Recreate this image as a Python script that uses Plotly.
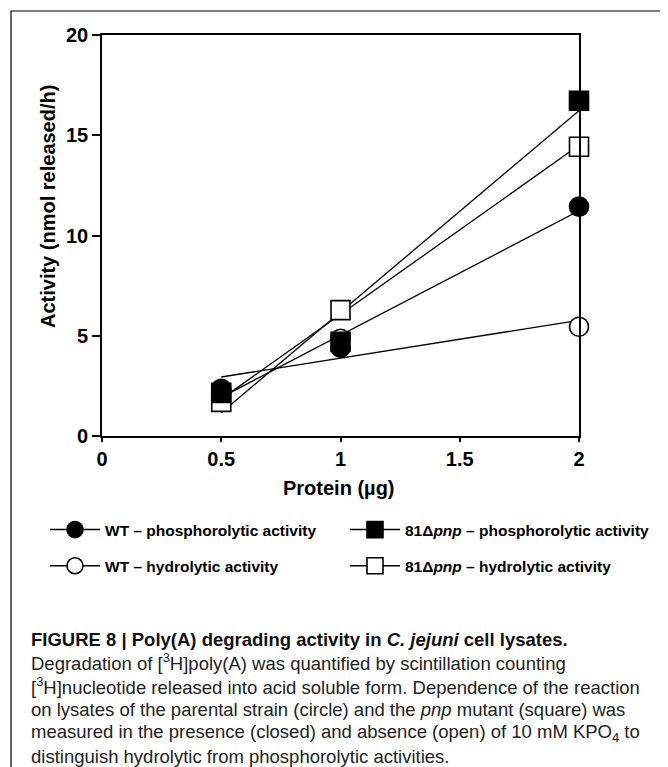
import numpy as np
import plotly.graph_objects as go

# ---------------- data ----------------
protein = [0.5, 1, 2]
wt_phos = [2.35, 4.4, 11.44]        # WT - phosphorolytic (filled circle)
wt_hydro = [2.3, 4.85, 5.45]        # WT - hydrolytic (open circle)
mut_phos = [2.15, 4.7, 16.72]       # 81Δpnp - phosphorolytic (filled square)
mut_hydro = [1.7, 6.28, 14.43]      # 81Δpnp - hydrolytic (open square)

x_ticks = [0, 0.5, 1, 1.5, 2]
x_ticklabels = ["0", "0.5", "1", "1.5", "2"]
y_ticks = [0, 5, 10, 15, 20]

names = {
    "wt_phos": "WT – phosphorolytic activity",
    "wt_hydro": "WT – hydrolytic activity",
    "mut_phos": "81Δ<i>pnp</i> – phosphorolytic activity",
    "mut_hydro": "81Δ<i>pnp</i> – hydrolytic activity",
}

caption_title = "<b>FIGURE 8 | Poly(A) degrading activity in <i>C. jejuni</i> cell lysates.</b>"
caption_lines = [
    "Degradation of [<sup>3</sup>H]poly(A) was quantified by scintillation counting",
    "[<sup>3</sup>H]nucleotide released into acid soluble form. Dependence of the reaction",
    "on lysates of the parental strain (circle) and the <i>pnp</i> mutant (square) was",
    "measured in the presence (closed) and absence (open) of 10 mM KPO<sub>4</sub> to",
    "distinguish hydrolytic from phosphorolytic activities.",
]

# ---------------- layout geometry (pixels in the page) ----------------
OFF = 8                      # default body margin of the html page
W, H = 668 - OFF, 767 - OFF
L, R, T, B = 102 - OFF, 579 - OFF, 35 - OFF, 436 - OFF
PW, PH = R - L, B - T


def px(xp):
    return (xp - OFF - L) / PW


def py(yp):
    return (B - (yp - OFF)) / PH


FONT = "Liberation Sans, Arial, sans-serif"

fig = go.Figure()

# linear trend lines (least squares fit of each series)
fit_x = np.array([min(protein), max(protein)])
for ys in [wt_phos, wt_hydro, mut_phos, mut_hydro]:
    slope, icpt = np.polyfit(protein, ys, 1)
    fig.add_trace(go.Scatter(x=fit_x, y=slope * fit_x + icpt, mode="lines",
                             line=dict(color="black", width=1.3),
                             showlegend=False, hoverinfo="skip"))

# markers (open markers beneath filled ones)
mk = dict(size=19, line=dict(color="black", width=1.6))
series = [
    ("wt_hydro", wt_hydro, "circle", "white"),
    ("mut_hydro", mut_hydro, "square", "white"),
    ("mut_phos", mut_phos, "square", "black"),
    ("wt_phos", wt_phos, "circle", "black"),
]
for key, ys, sym, col in series:
    fig.add_trace(go.Scatter(x=protein, y=ys, mode="markers", cliponaxis=False,
                             marker=dict(symbol=sym, color=col, **mk),
                             showlegend=False, name=names[key]))

# legend entries
leg = [
    ("wt_phos", "circle", "black", "legend", "g1"),
    ("wt_hydro", "circle", "white", "legend", "g2"),
    ("mut_phos", "square", "black", "legend2", "g3"),
    ("mut_hydro", "square", "white", "legend2", "g4"),
]
for key, sym, col, lg, grp in leg:
    fig.add_trace(go.Scatter(x=[None], y=[None], mode="lines+markers",
                             name=names[key], legend=lg, legendgroup=grp,
                             line=dict(color="black", width=1.5),
                             marker=dict(symbol=sym, color=col, size=16,
                                         line=dict(color="black", width=1.6))))

axis_common = dict(showline=True, linecolor="black", linewidth=1.6, mirror=True,
                   showgrid=False, zeroline=False, ticks="outside",
                   tickcolor="black", tickwidth=1.6)
tickfont = dict(size=20, family=FONT, weight="bold", color="black")
legfont = dict(size=15.5, family=FONT, weight="bold", color="black")

fig.update_layout(
    width=W, height=H,
    margin=dict(l=L, r=W - R, t=T, b=H - B),
    paper_bgcolor="white", plot_bgcolor="white",
    font=dict(family=FONT, color="black"),
    xaxis=dict(range=[0, 2], tickvals=x_ticks, ticktext=x_ticklabels,
               ticklen=4, tickfont=tickfont, **axis_common),
    yaxis=dict(range=[0, 20], tickvals=y_ticks, ticklen=8,
               tickfont=tickfont, **axis_common),
    legend=dict(x=px(45), y=py(513), xanchor="left", yanchor="top",
                orientation="v", tracegroupgap=13, itemwidth=50,
                font=legfont, bgcolor="rgba(0,0,0,0)"),
    legend2=dict(x=px(345), y=py(513), xanchor="left", yanchor="top",
                 orientation="v", tracegroupgap=13, itemwidth=50,
                 font=legfont, bgcolor="rgba(0,0,0,0)"),
)

annotations = [
    dict(text="<b>Activity (nmol released/h)</b>", textangle=-90,
         x=px(48), y=py(207), xref="paper", yref="paper",
         xanchor="center", yanchor="middle",
         showarrow=False, font=dict(size=20, family=FONT)),
    dict(text="<b>Protein (µg)</b>", x=px(339), y=py(488),
         xref="paper", yref="paper", xanchor="center", yanchor="middle",
         showarrow=False, font=dict(size=20, family=FONT)),
    dict(text=caption_title, x=px(29), y=py(639), xref="paper", yref="paper",
         xanchor="left", yanchor="middle", showarrow=False,
         font=dict(size=18.5, family=FONT, color="#111")),
]
for i, line in enumerate(caption_lines):
    annotations.append(dict(text=line, x=px(29), y=py(662 + 23.6 * i),
                            xref="paper", yref="paper", xanchor="left",
                            yanchor="middle", showarrow=False,
                            font=dict(size=18.5, family=FONT, color="#222")))
fig.update_layout(annotations=annotations)

fig.add_shape(type="rect", xref="paper", yref="paper",
              x0=px(11), x1=px(666), y0=py(11), y1=py(800),
              line=dict(color="black", width=1.2), fillcolor="rgba(0,0,0,0)",
              layer="below")

fig.write_html("out.html")
